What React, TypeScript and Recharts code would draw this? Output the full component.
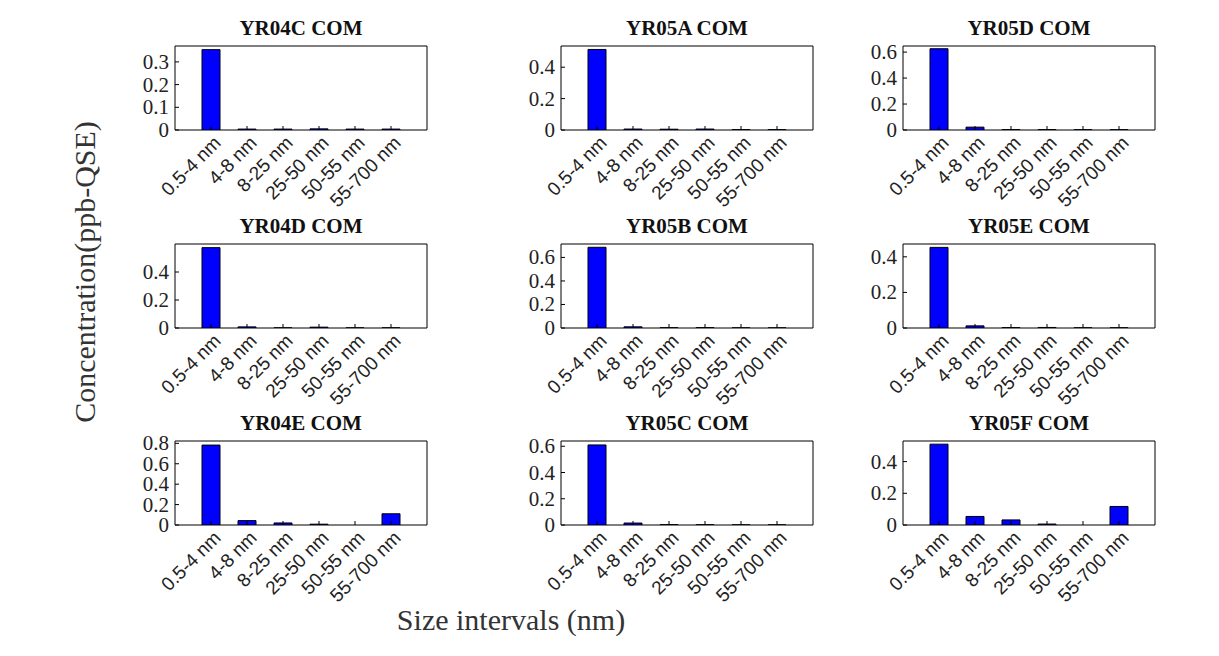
import React from 'react';
import { BarChart, Bar, XAxis, YAxis, ReferenceArea } from 'recharts';

const sizeLabels = ['0.5-4 nm', '4-8 nm', '8-25 nm', '25-50 nm', '50-55 nm', '55-700 nm'];
const titles = ['YR04C COM', 'YR05A COM', 'YR05D COM', 'YR04D COM', 'YR05B COM', 'YR05E COM', 'YR04E COM', 'YR05C COM', 'YR05F COM'];
const yr04c = [0.354, 0.004, 0.004, 0.005, 0.004, 0.004];
const yr05a = [0.513, 0.006, 0.005, 0.006, 0.002, 0.002];
const yr05d = [0.626, 0.022, 0.003, 0.003, 0.002, 0.002];
const yr04d = [0.574, 0.008, 0.001, 0.006, 0.001, 0.001];
const yr05b = [0.686, 0.01, 0.002, 0.003, 0.001, 0.001];
const yr05e = [0.453, 0.012, 0.002, 0.003, 0.001, 0.001];
const yr04e = [0.783, 0.043, 0.02, 0.008, 0.0, 0.11];
const yr05c = [0.61, 0.015, 0.003, 0.002, 0.001, 0.001];
const yr05f = [0.51, 0.054, 0.032, 0.006, 0.0, 0.117];
const seriesList = [yr04c, yr05a, yr05d, yr04d, yr05b, yr05e, yr04e, yr05c, yr05f];
const yMax = [0.37, 0.535, 0.647, 0.6, 0.714, 0.472, 0.823, 0.64, 0.53];
const yTicks = [
  [0, 0.1, 0.2, 0.3], [0, 0.2, 0.4], [0, 0.2, 0.4, 0.6],
  [0, 0.2, 0.4], [0, 0.2, 0.4, 0.6], [0, 0.2, 0.4],
  [0, 0.2, 0.4, 0.6, 0.8], [0, 0.2, 0.4, 0.6], [0, 0.2, 0.4],
];

const colLeft = [175, 561, 903];
const rowTop = [46, 244, 441];
const PW = 252;
const PH = 84;
const ML = 60, MT = 32, MR = 20, MB = 100;

const XTick = (props: any) => {
  const { x, y, payload } = props;
  return (
    <g>
      <line x1={x} y1={y} x2={x} y2={y - 4} stroke="#000" />
      <text x={x + 11} y={y + 14} transform={`rotate(-45 ${x + 11} ${y + 14})`} textAnchor="end"
        fontFamily="Liberation Sans, Arial, sans-serif" fontSize={19} fill="#222">
        {sizeLabels[payload.value - 1]}
      </text>
    </g>
  );
};

const YTick = (props: any) => {
  const { x, y, payload } = props;
  return (
    <g>
      <line x1={x} y1={y} x2={x + 4} y2={y} stroke="#000" />
      <text x={x - 6} y={y + 7} textAnchor="end" fontFamily="Liberation Serif, Times New Roman, serif" fontSize={21} fill="#222">
        {String(payload.value)}
      </text>
    </g>
  );
};

const Panel = ({ idx }: { idx: number }) => {
  const vals = seriesList[idx];
  const data = vals.map((v, i) => ({ x: i + 1, v }));
  const left = colLeft[idx % 3] - ML;
  const top = rowTop[Math.floor(idx / 3)] - MT;
  return (
    <div style={{ position: 'absolute', left, top }}>
      <div style={{ position: 'absolute', left: ML, width: PW, top: 2, textAlign: 'center', fontFamily: 'Liberation Serif, Times New Roman, serif', fontWeight: 'bold', fontSize: 21, color: '#111' }}>
        {titles[idx]}
      </div>
      <BarChart width={ML + PW + MR} height={MT + PH + MB} data={data} margin={{ top: MT, left: 0, right: MR, bottom: 0 }}>
        <XAxis dataKey="x" type="number" domain={[0, 7]} ticks={[1, 2, 3, 4, 5, 6]} tick={<XTick />} tickLine={false} tickSize={0} tickMargin={0} interval={0} axisLine={false} height={MB} allowDataOverflow />
        <YAxis type="number" domain={[0, yMax[idx]]} ticks={yTicks[idx]} tick={<YTick />} tickLine={false} tickSize={0} tickMargin={0} interval={0} width={ML} axisLine={false} allowDataOverflow />
        <Bar dataKey="v" fill="#0000ff" stroke="#000" strokeWidth={1} barSize={18} isAnimationActive={false} />
        <ReferenceArea x1={0} x2={7} y1={0} y2={yMax[idx]} fill="none" stroke="#000" strokeWidth={1} ifOverflow="extendDomain" />
      </BarChart>
    </div>
  );
};

export default function App() {
  return (
    <div style={{ position: 'absolute', left: 0, top: 0, width: 1219, height: 656, background: '#fff' }}>
      {titles.map((_, i) => <Panel key={i} idx={i} />)}
      <div style={{ position: 'absolute', left: 85, top: 272, transform: 'translate(-50%, -50%) rotate(-90deg)', whiteSpace: 'nowrap', fontFamily: 'Liberation Serif, Times New Roman, serif', fontSize: 30, color: '#333' }}>
        Concentration(ppb-QSE)
      </div>
      <div style={{ position: 'absolute', left: 511, top: 620, transform: 'translate(-50%, -50%)', whiteSpace: 'nowrap', fontFamily: 'Liberation Serif, Times New Roman, serif', fontSize: 30, color: '#333' }}>
        Size intervals (nm)
      </div>
    </div>
  );
}
